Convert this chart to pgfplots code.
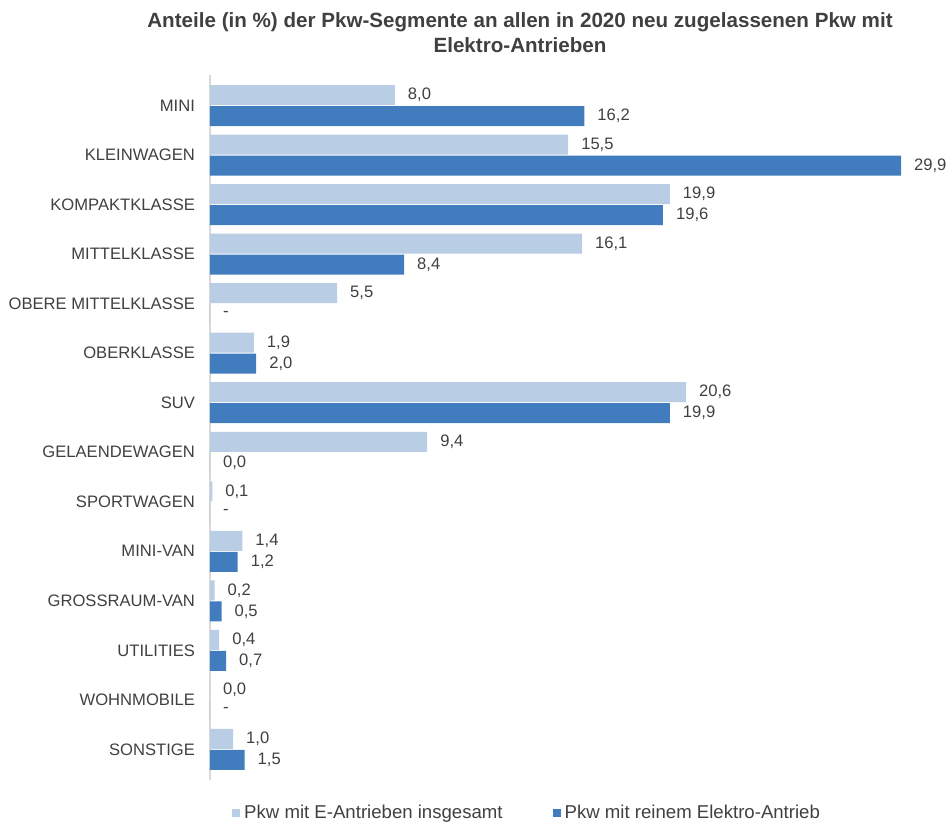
\documentclass[border=0pt]{standalone}
\usepackage{fontspec}
\setmainfont{Liberation Sans}
\usepackage{pgfplots}
\pgfplotsset{compat=1.18}
\definecolor{lightbar}{RGB}{185,205,228}
\definecolor{darkbar}{RGB}{65,125,190}
\definecolor{txt}{RGB}{64,64,64}
\definecolor{axisgray}{RGB}{217,217,217}

\begin{document}
\begin{tikzpicture}
\path[use as bounding box] (0,0) rectangle (475pt,-411.5pt);
\node[font=\bfseries\fontsize{10.3}{12.5}\selectfont, text=txt, align=center]
  at (260pt,-16.5pt) {Anteile (in \%) der Pkw-Segmente an allen in 2020 neu zugelassenen Pkw mit\\Elektro-Antrieben};
\begin{axis}[
  at={(105pt,-390pt)}, anchor=south west,
  scale only axis, width=364pt, height=352.5pt,
  xbar, bar width=10pt,
  xmin=0, xmax=31.5, ymin=-0.62, ymax=13.62,
  y dir=reverse,
  axis x line=none,
  axis y line*=left,
  y axis line style={draw=axisgray, line width=0.8pt, -},
  major tick length=0pt,
  ytick={0,...,13},
  yticklabels={MINI,KLEINWAGEN,KOMPAKTKLASSE,MITTELKLASSE,OBERE MITTELKLASSE,OBERKLASSE,SUV,GELAENDEWAGEN,SPORTWAGEN,MINI-VAN,GROSSRAUM-VAN,UTILITIES,WOHNMOBILE,SONSTIGE},
  yticklabel style={font=\fontsize{8.3}{10}\selectfont, text=txt, xshift=-4pt},
  point meta=explicit symbolic,
  nodes near coords,
  every node near coord/.append style={font=\fontsize{8.3}{10}\selectfont, text=txt, anchor=west, xshift=3pt},
  legend columns=2,
  legend style={at={(0.03,-0.047)}, anchor=west, draw=none, fill=none, inner sep=0pt,
    font=\fontsize{9.3}{11}\selectfont, text=txt,
    /tikz/every even column/.append style={column sep=23pt}},
  legend image code/.code={\fill[#1] (0pt,-2pt) rectangle (4pt,2pt);},
]
\addplot[fill=lightbar, draw=none, bar shift=5.25pt] coordinates {
  (8.0,0) [8,0]
  (15.5,1) [15,5]
  (19.9,2) [19,9]
  (16.1,3) [16,1]
  (5.5,4) [5,5]
  (1.9,5) [1,9]
  (20.6,6) [20,6]
  (9.4,7) [9,4]
  (0.1,8) [0,1]
  (1.4,9) [1,4]
  (0.2,10) [0,2]
  (0.4,11) [0,4]
  (0.0,12) [0,0]
  (1.0,13) [1,0]
};
\addplot[fill=darkbar, draw=none, bar shift=-5.25pt] coordinates {
  (16.2,0) [16,2]
  (29.9,1) [29,9]
  (19.6,2) [19,6]
  (8.4,3) [8,4]
  (0,4) [-]
  (2.0,5) [2,0]
  (19.9,6) [19,9]
  (0.0,7) [0,0]
  (0,8) [-]
  (1.2,9) [1,2]
  (0.5,10) [0,5]
  (0.7,11) [0,7]
  (0,12) [-]
  (1.5,13) [1,5]
};
\legend{Pkw mit E-Antrieben insgesamt, Pkw mit reinem Elektro-Antrieb}
\end{axis}
\end{tikzpicture}
\end{document}
